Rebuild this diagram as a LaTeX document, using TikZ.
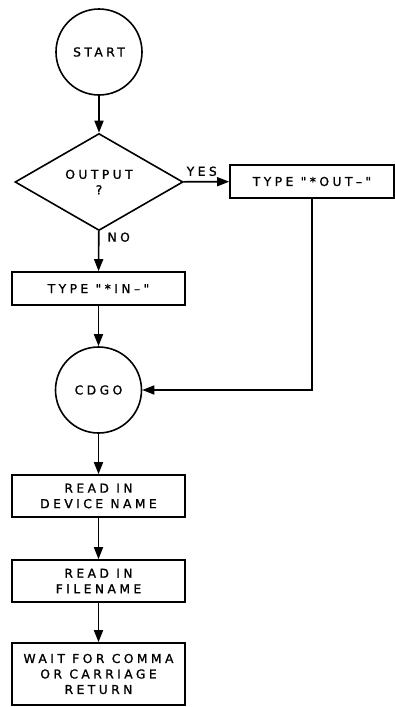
\documentclass[tikz,border=0pt]{standalone}
\usepackage{fontspec}
\newfontfamily\chartfont[LetterSpace=28, FakeBold=1.2]{DejaVu Sans}
\usetikzlibrary{arrows.meta}
\usetikzlibrary{shapes.geometric}

\begin{document}
\begin{tikzpicture}[x=1pt, y=-1pt, >={Triangle[length=12pt,width=9pt]}, line width=1.6pt,
	every node/.style={font=\chartfont\fontsize{12.3}{15.5}\selectfont, align=center, inner sep=0pt},
	stepbox/.style={rectangle, draw, minimum width=173pt}]
	\useasboundingbox (0,0) rectangle (395,707);
	%Start
	\node [circle,draw,minimum size=86pt] (start) at (99,52) {START};
	%Decision
	\node [diamond,draw,minimum width=168pt,minimum height=97pt] (output) at (99,182) {OUTPUT\\?};
	\node [stepbox,minimum width=164pt,minimum height=33pt] (typeout) at (312,181.5) {TYPE "*OUT–"};
	\node [stepbox,minimum height=33pt] (typein) at (98.5,288.5) {TYPE "*IN–"};
	\draw[->] (start) -- (output);
	\draw[->] (output) -- node [pos=0.4, above=5pt] {YES} (typeout);
	\draw[->] (output) -- node [pos=0.15, right=8pt] {NO} (typein);
	%Join
	\node [circle,draw,minimum size=86pt] (cdgo) at (98.5,390) {CDGO};
	\draw[->] (typein) -- (cdgo);
	\draw[->] (typeout) |- (cdgo);
	%Reading
	\node [stepbox,minimum height=42pt] (device) at (98.5,496) {READ IN\\DEVICE NAME};
	\node [stepbox,minimum height=42pt] (filename) at (98.5,581) {READ IN\\FILENAME};
	\node [stepbox,minimum height=62pt] (wait) at (98.5,674) {WAIT FOR COMMA\\OR CARRIAGE\\RETURN};
	\draw[->] (cdgo) -- (device);
	\draw[->] (device) -- (filename);
	\draw[->] (filename) -- (wait);
\end{tikzpicture}
\end{document}
